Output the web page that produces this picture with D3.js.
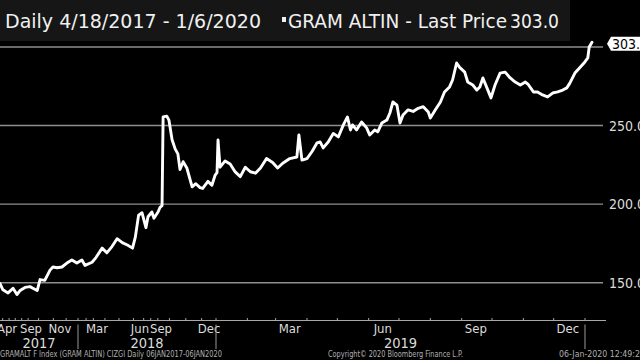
<!DOCTYPE html>
<html>
<head>
<meta charset="utf-8">
<script src="https://cdn.jsdelivr.net/npm/d3@7"></script>
<style>
  html, body { margin: 0; padding: 0; background: #000; }
  svg { display: block; }
  text { font-family: "Liberation Sans Narrow", "DejaVu Sans Condensed", "Arial Narrow", sans-serif; }
</style>
</head>
<body>
<div id="chart"></div>
<script>
// GRAM ALTIN last price
const dates = [
    "2017-04-18", "2017-05-02", "2017-05-27", "2017-06-20", "2017-07-09", "2017-07-24", "2017-08-17",
    "2017-09-10", "2017-09-19", "2017-09-28", "2017-10-04", "2017-10-14", "2017-10-25", "2017-10-31",
    "2017-11-09", "2017-11-20", "2017-12-03", "2017-12-16", "2017-12-29",
    "2018-01-16", "2018-01-28", "2018-02-24", "2018-03-11", "2018-03-26", "2018-04-05", "2018-04-16",
    "2018-04-27", "2018-05-08", "2018-05-19", "2018-05-30", "2018-06-05", "2018-06-12", "2018-06-24",
    "2018-07-11", "2018-07-20", "2018-08-06", "2018-08-15", "2018-09-02", "2018-09-11", "2018-09-17",
    "2018-09-19", "2018-09-26", "2018-09-30", "2018-10-06", "2018-10-12", "2018-10-17", "2018-10-21",
    "2018-10-27", "2018-11-03", "2018-11-13", "2018-11-20", "2018-11-28", "2018-12-03", "2018-12-13",
    "2018-12-22", "2018-12-30",
    "2019-01-02", "2019-01-03", "2019-01-05", "2019-01-10", "2019-01-15", "2019-01-20", "2019-01-25",
    "2019-01-30", "2019-02-04", "2019-02-09", "2019-02-14", "2019-02-20", "2019-02-26", "2019-03-03",
    "2019-03-08", "2019-03-15", "2019-03-22", "2019-03-24", "2019-03-27", "2019-04-01", "2019-04-06",
    "2019-04-11", "2019-04-14", "2019-04-17", "2019-04-22", "2019-04-27", "2019-05-02", "2019-05-07",
    "2019-05-11", "2019-05-14", "2019-05-16", "2019-05-20", "2019-05-25", "2019-05-30", "2019-06-02",
    "2019-06-07", "2019-06-10", "2019-06-14", "2019-06-19", "2019-06-22", "2019-06-25", "2019-06-29",
    "2019-07-02", "2019-07-05", "2019-07-10", "2019-07-15", "2019-07-20", "2019-07-25", "2019-07-30",
    "2019-08-01", "2019-08-06", "2019-08-11", "2019-08-15", "2019-08-20", "2019-08-23", "2019-08-27",
    "2019-08-30", "2019-09-04", "2019-09-07", "2019-09-12", "2019-09-16", "2019-09-19", "2019-09-22",
    "2019-09-26", "2019-09-30", "2019-10-04", "2019-10-09", "2019-10-14", "2019-10-19", "2019-10-24",
    "2019-10-29", "2019-11-03", "2019-11-06", "2019-11-11", "2019-11-15", "2019-11-20", "2019-11-25",
    "2019-11-30", "2019-12-05", "2019-12-10", "2019-12-14", "2019-12-17", "2019-12-22", "2019-12-27",
    "2019-12-31", "2020-01-03", "2020-01-04", "2020-01-06"
];
const prices = [
    149.5, 145.5, 143.5, 146.5, 142.5, 145, 147,
    147.5, 146.5, 145, 152, 151.5, 158, 160,
    159.5, 160, 162.5, 164.5, 162.5,
    164.5, 161, 163, 166, 172, 169, 173,
    178, 175.5, 174, 172, 179, 193, 194.5,
    185, 192, 195, 191, 195, 198, 199,
    255.5, 256, 253.5, 241, 235, 232, 222,
    227, 223, 211, 213, 210.5, 210, 214.5,
    212, 218.5,
    220, 240.8, 223.5, 227.5, 225.5, 220.5, 217.5,
    223.5, 220.6, 219.7, 223, 229, 226.5, 223,
    226, 229, 230, 244, 228, 229, 233.5,
    239, 239.6, 235.8, 239.5, 245, 242.8, 250.4,
    255.5, 247.2, 250.4, 247.2, 252.3, 248.5, 244,
    247.2, 246, 251.6, 253.5, 258, 265, 263,
    251.6, 256.7, 260, 259, 261, 262, 258.6,
    254.8, 260, 265, 271.4, 274.6, 279, 289.8,
    287, 284, 277.7, 275.8, 272.6, 274.6, 280.3,
    274, 267.6, 275.8, 283.4, 284, 280.3, 277.7,
    275.8, 277.7, 276, 271.4, 271.4, 269.5, 268.2,
    270.7, 271.4, 272.6, 274, 277, 283.4, 287,
    289.8, 293, 300, 303
];
const yTicks = [150, 200, 250];
const monthLabels = ["2017-04", "2017-09", "2017-11", "2018-03", "2018-06", "2018-09", "2018-12",
                     "2019-03", "2019-06", "2019-09", "2019-12"];
const years = [2017, 2018, 2019];
const titleRange = "Daily 4/18/2017 - 1/6/2020";
const seriesName = "GRAM ALTIN - Last Price";
const footLeft = "GRAMALT F Index (GRAM ALTIN) CIZGI  Daily 06JAN2017-06JAN2020";
const footMid = "Copyright\u00A9 2020 Bloomberg Finance L.P.";
const footRight = "06-Jan-2020 12:49:20";

const parse = d3.timeParse("%Y-%m-%d");
const data = dates.map((d, i) => ({ date: parse(d), price: prices[i] }));
const lastPrice = prices[prices.length - 1];

const width = 640, height = 360;

// Bloomberg plots by observation, so the time axis is uneven: piecewise time scale
const xBreaks = ["2017-04-18", "2017-09-15", "2017-11-15", "2018-01-01", "2018-03-15", "2018-06-15",
                 "2018-09-15", "2018-12-15", "2019-01-01", "2020-01-01", "2020-01-06"].map(parse);
const xStops = [0, 31, 60, 78, 97, 140, 161, 209, 216, 585, 592];
const x = d3.scaleTime().domain(xBreaks).range(xStops);

const y = d3.scaleLinear().domain([150, 300]).range([282.7, 47]);

const svg = d3.select("#chart").append("svg")
    .attr("width", width)
    .attr("height", height);

svg.append("rect").attr("width", width).attr("height", height).attr("fill", "#000");

// title bar
svg.append("rect")
    .attr("x", 0).attr("y", 0)
    .attr("width", 570).attr("height", 41)
    .attr("fill", "#161616");

svg.append("text")
    .attr("x", 5).attr("y", 28)
    .attr("fill", "#f0f0f0")
    .style("font-size", "19px")
    .attr("textLength", 256).attr("lengthAdjust", "spacingAndGlyphs")
    .text(titleRange);

svg.append("rect")
    .attr("x", 282).attr("y", 17)
    .attr("width", 4).attr("height", 5)
    .attr("fill", "#f0f0f0");

svg.append("text")
    .attr("x", 288).attr("y", 28)
    .attr("fill", "#f0f0f0")
    .style("font-size", "19px")
    .attr("textLength", 219).attr("lengthAdjust", "spacingAndGlyphs")
    .text(seriesName);

svg.append("text")
    .attr("x", 510).attr("y", 28)
    .attr("fill", "#f0f0f0")
    .style("font-size", "19px")
    .attr("textLength", 49).attr("lengthAdjust", "spacingAndGlyphs")
    .text(lastPrice.toFixed(1));

// grid lines
svg.append("g")
    .selectAll("line")
    .data([...yTicks, 300])
    .enter()
    .append("line")
    .attr("x1", 0).attr("x2", 603)
    .attr("y1", d => y(d)).attr("y2", d => y(d))
    .attr("stroke", "#8e8e8e")
    .attr("stroke-width", 1.4);

svg.append("g")
    .selectAll("text")
    .data(yTicks)
    .enter()
    .append("text")
    .attr("x", 609)
    .attr("y", d => y(d) + 5)
    .attr("fill", "#dcdcdc")
    .style("font-size", "14px")
    .text(d => d.toFixed(1));

// price line
const line = d3.line()
    .x(d => x(d.date))
    .y(d => y(d.price));

svg.append("path")
    .datum(data)
    .attr("d", line)
    .attr("fill", "none")
    .attr("stroke", "#fff")
    .attr("stroke-width", 2.9)
    .attr("stroke-linejoin", "round")
    .attr("stroke-linecap", "round");

// last price tag
const tagY = y(lastPrice) + 1.5;
svg.append("path")
    .attr("d", `M607,${tagY} L611,${tagY - 7} L640,${tagY - 7} L640,${tagY + 7} L611,${tagY + 7} Z`)
    .attr("fill", "#fff");

svg.append("text")
    .attr("x", 612)
    .attr("y", tagY + 5)
    .attr("fill", "#000")
    .style("font-size", "14px")
    .text(lastPrice.toFixed(1));

// x axis
const axisY = 320.5;
const monthStarts = d3.timeMonth.range(d3.timeMonth.ceil(xBreaks[0]), xBreaks[xBreaks.length - 1]);

svg.append("line")
    .attr("x1", 0).attr("x2", 606)
    .attr("y1", axisY).attr("y2", axisY)
    .attr("stroke", "#a8a8a8")
    .attr("stroke-width", 1);

svg.append("g")
    .selectAll("line")
    .data(monthStarts)
    .enter()
    .append("line")
    .attr("x1", d => x(d)).attr("x2", d => x(d))
    .attr("y1", axisY - 2.5).attr("y2", axisY)
    .attr("stroke", "#a8a8a8");

const monthFmt = d3.timeFormat("%b");
svg.append("g")
    .selectAll("text")
    .data(monthLabels.map(m => parse(m + "-15")))
    .enter()
    .append("text")
    .attr("x", d => Math.max(x(d), 7))
    .attr("y", 333)
    .attr("text-anchor", "middle")
    .attr("fill", "#dcdcdc")
    .style("font-size", "13px")
    .text(d => monthFmt(d));

const yearStarts = [2018, 2019, 2020].map(yr => new Date(yr, 0, 1));
svg.append("g")
    .selectAll("line")
    .data(yearStarts)
    .enter()
    .append("line")
    .attr("x1", d => x(d)).attr("x2", d => x(d))
    .attr("y1", axisY + 4).attr("y2", 349)
    .attr("stroke", "#9a9a9a");

svg.append("g")
    .selectAll("text")
    .data(years)
    .enter()
    .append("text")
    .attr("x", yr => (x(d3.max([new Date(yr, 0, 1), xBreaks[0]])) + x(new Date(yr + 1, 0, 1))) / 2)
    .attr("y", 348)
    .attr("text-anchor", "middle")
    .attr("fill", "#dcdcdc")
    .style("font-size", "14.5px")
    .text(yr => yr);

// footer
const foot = [
    { text: footLeft, x: 0, len: 222 },
    { text: footMid, x: 328, len: 135 },
    { text: footRight, x: 559, len: 86 }
];
svg.append("g")
    .selectAll("text")
    .data(foot)
    .enter()
    .append("text")
    .attr("x", d => d.x)
    .attr("y", 357)
    .attr("fill", "#b0b0b0")
    .style("font-size", "8px")
    .attr("textLength", d => d.len)
    .attr("lengthAdjust", "spacingAndGlyphs")
    .text(d => d.text);
</script>
</body>
</html>
